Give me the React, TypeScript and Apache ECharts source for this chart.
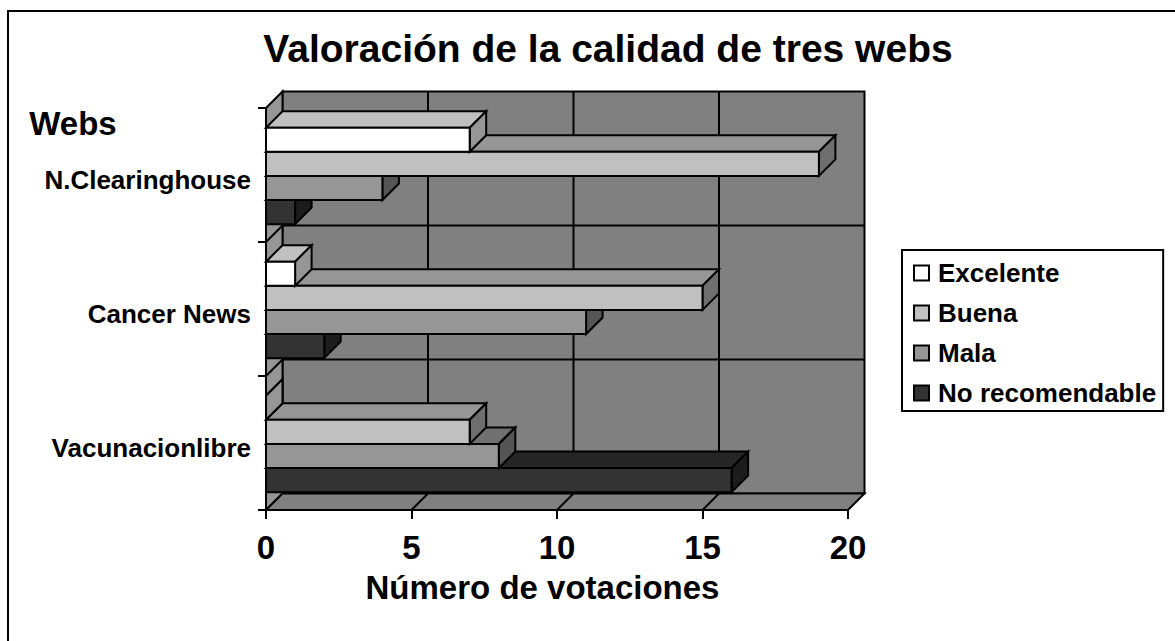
import React, { useEffect, useRef } from "react";
import * as echarts from "echarts";

const categories = ["Vacunacionlibre", "Cancer News", "N.Clearinghouse"];
const seriesNames = ["Excelente", "Buena", "Mala", "No recomendable"];
const excelente = [0, 1, 7];
const buena = [7, 15, 19];
const mala = [8, 11, 4];
const noRecomendable = [16, 2, 1];
const xTicks = [0, 5, 10, 15, 20];
const frontColors = ["#ffffff", "#c0c0c0", "#969696", "#333333"];
const topColors = ["#c0c0c0", "#969696", "#707070", "#262626"];
const sideColors = ["#969696", "#6e6e6e", "#555555", "#1c1c1c"];

const FONT = "'Liberation Sans', Arial, sans-serif";
const DEPTH = 16.5;
const LINE = { stroke: "#000", lineWidth: 2, lineJoin: "miter" as const };

function poly(points: number[][], fill: string) {
  return { type: "polygon", shape: { points }, style: { fill, ...LINE } };
}
function seg(a: number[], b: number[]) {
  return { type: "line", shape: { x1: a[0], y1: a[1], x2: b[0], y2: b[1] }, style: { stroke: "#000", lineWidth: 2 } };
}

function renderWalls(_p: any, api: any) {
  const band = api.size([0, 1])[1];
  const c0 = api.coord([0, 0]);
  const bottom = c0[1] + band / 2;
  const x0 = c0[0];
  const x1 = api.coord([20, 0])[0];
  const top = bottom - band * categories.length;
  const children: any[] = [
    poly([[x0 + DEPTH, top - DEPTH], [x1 + DEPTH, top - DEPTH], [x1 + DEPTH, bottom - DEPTH], [x0 + DEPTH, bottom - DEPTH]], "#808080"),
    poly([[x0, top], [x0 + DEPTH, top - DEPTH], [x0 + DEPTH, bottom - DEPTH], [x0, bottom]], "#969696"),
    poly([[x0, bottom], [x0 + DEPTH, bottom - DEPTH], [x1 + DEPTH, bottom - DEPTH], [x1, bottom]], "#808080"),
  ];
  for (const t of xTicks.slice(1, -1)) {
    const x = api.coord([t, 0])[0];
    children.push(seg([x + DEPTH, top - DEPTH], [x + DEPTH, bottom - DEPTH]));
    children.push(seg([x, bottom], [x + DEPTH, bottom - DEPTH]));
  }
  for (let k = 1; k < categories.length; k++) {
    const y = bottom - k * band;
    children.push(seg([x0 + DEPTH, y - DEPTH], [x1 + DEPTH, y - DEPTH]));
    children.push(seg([x0, y], [x0 + DEPTH, y - DEPTH]));
  }
  return { type: "group", children };
}

function barRenderer(k: number) {
  return (_p: any, api: any) => {
    const band = api.size([0, 1])[1];
    const end = api.coord([api.value(0), api.value(1)]);
    const x0 = api.coord([0, api.value(1)])[0];
    const x1 = end[0];
    const bandTop = end[1] - band / 2;
    const h = band * 0.18;
    const y0 = bandTop + band * 0.147 + k * h;
    const y1 = y0 + h;
    return {
      type: "group",
      children: [
        poly([[x0, y0], [x0 + DEPTH, y0 - DEPTH], [x1 + DEPTH, y0 - DEPTH], [x1, y0]], topColors[k]),
        poly([[x1, y0], [x1 + DEPTH, y0 - DEPTH], [x1 + DEPTH, y1 - DEPTH], [x1, y1]], sideColors[k]),
        poly([[x0, y0], [x1, y0], [x1, y1], [x0, y1]], frontColors[k]),
      ],
    };
  };
}

const seriesValues = [excelente, buena, mala, noRecomendable];

export default function App() {
  const ref = useRef<HTMLDivElement>(null);
  useEffect(() => {
    const chart = echarts.init(ref.current!, undefined, { renderer: "svg" });
    const barSeries = [3, 2, 1, 0].map((k) => ({
      type: "custom",
      name: seriesNames[k],
      renderItem: barRenderer(k),
      clip: false,
      itemStyle: { color: frontColors[k], borderColor: "#000", borderWidth: 1.5 },
      encode: { x: 0, y: 1 },
      data: seriesValues[k].map((v, i) => [v, i]),
    }));
    chart.setOption({
      animation: false,
      backgroundColor: "#ffffff",
      title: {
        text: "Valoración de la calidad de tres webs",
        left: 603,
        top: 24,
        textAlign: "center",
        textStyle: { fontFamily: FONT, fontSize: 39, fontWeight: "bold", color: "#000" },
      },
      legend: {
        left: 902,
        top: 250,
        orient: "vertical",
        align: "left",
        data: seriesNames,
        icon: "rect",
        itemWidth: 15,
        itemHeight: 15,
        itemGap: 14,
        padding: [10, 7, 5, 11],
        borderColor: "#000",
        borderWidth: 2,
        backgroundColor: "#fff",
        selectedMode: false,
        textStyle: { fontFamily: FONT, fontSize: 26, fontWeight: "bold", color: "#000", padding: [0, 0, 0, 4] },
      },
      grid: { left: 266, right: 327, top: 108, bottom: 131 },
      xAxis: {
        type: "value",
        min: 0,
        max: 20,
        interval: 5,
        z: 10,
        name: "Número de votaciones",
        nameLocation: "middle",
        nameGap: 61,
        nameTextStyle: { fontFamily: FONT, fontSize: 33, fontWeight: "bold", color: "#000", padding: [0, 29, 0, 0] },
        axisLine: { show: true, lineStyle: { color: "#000", width: 2 } },
        axisTick: { show: true, length: 9, lineStyle: { color: "#000", width: 2 } },
        axisLabel: { fontFamily: FONT, fontSize: 33, fontWeight: "bold", color: "#000", margin: 21 },
        splitLine: { show: false },
      },
      yAxis: {
        type: "category",
        data: categories,
        z: 10,
        name: "Webs",
        nameLocation: "end",
        nameGap: -32,
        nameTextStyle: { fontFamily: FONT, fontSize: 33, fontWeight: "bold", color: "#000", padding: [0, 386, 0, 0] },
        axisLine: { show: true, lineStyle: { color: "#000", width: 2 } },
        axisTick: { show: true, length: 8, lineStyle: { color: "#000", width: 2 } },
        axisLabel: { fontFamily: FONT, fontSize: 26, fontWeight: "bold", color: "#000", margin: 15, verticalAlign: "top", lineHeight: 10 },
        splitLine: { show: false },
      },
      graphic: [
        { type: "line", shape: { x1: 8, y1: 10, x2: 8, y2: 641 }, style: { stroke: "#000", lineWidth: 2 }, silent: true },
        { type: "line", shape: { x1: 7, y1: 11, x2: 1175, y2: 11 }, style: { stroke: "#000", lineWidth: 2 }, silent: true },
      ],
      series: [
        { type: "custom", name: "walls", renderItem: renderWalls, clip: false, encode: { x: 0, y: 1 }, data: [[0, 0]], silent: true },
        ...barSeries,
      ],
    });
    return () => chart.dispose();
  }, []);
  return <div ref={ref} style={{ position: "fixed", left: 0, top: 0, width: 1175, height: 641 }} />;
}
